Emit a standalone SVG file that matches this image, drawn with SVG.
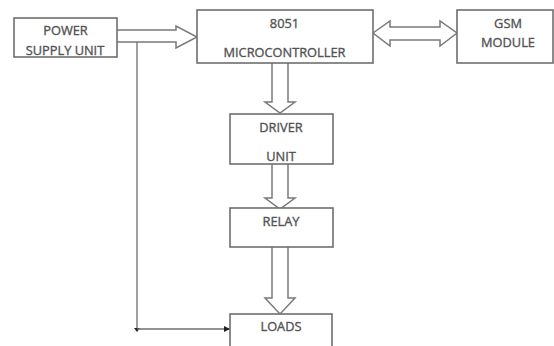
<svg xmlns="http://www.w3.org/2000/svg" width="554" height="346" viewBox="0 0 554 346">
  <style>
    .box { fill: #ffffff; stroke: #6e6e6e; stroke-width: 1.6; }
    .pipe { fill: #ffffff; stroke: #7a7a7a; stroke-width: 1.5; stroke-linejoin: miter; }
    .wire { fill: none; stroke: #6e6e6e; stroke-width: 1.3; }
    .lbl { font-family: "Open Sans", "Liberation Sans", sans-serif; font-size: 12.8px; fill: #4e4e4e; stroke: #5a5a5a; stroke-width: 0.35; text-anchor: middle; }
  </style>
  <defs>
    <marker id="tip" viewBox="0 0 6 6" refX="6" refY="3" markerWidth="6" markerHeight="6" orient="auto" markerUnits="userSpaceOnUse">
      <path d="M0,0 L6,3 L0,6 Z" fill="#222222"/>
    </marker>
  </defs>

  <rect width="554" height="346" fill="#ffffff"/>

  <g id="connectors">
    <!-- power supply to microcontroller -->
    <path class="pipe" d="M117,30 L176,30 L176,26 L197,37 L176,48 L176,42 L117,42"/>
    <!-- microcontroller <-> GSM module -->
    <path class="pipe" d="M373,33 L390,21 L390,27 L440,27 L440,21 L457,33 L440,46 L440,40 L390,40 L390,46 Z"/>
    <!-- microcontroller to driver -->
    <path class="pipe" d="M272,63 L272,102 L265,102 L280,113 L295,102 L288,102 L288,63"/>
    <!-- driver to relay -->
    <path class="pipe" d="M272,164 L272,198 L265,198 L280,209 L295,198 L288,198 L288,164"/>
    <!-- relay to loads -->
    <path class="pipe" d="M272,247 L272,298 L265,298 L280,314 L295,298 L288,298 L288,247"/>
    <!-- supply line to loads -->
    <path class="wire" d="M137,42 L137,329"/>
    <path d="M134,328 L140,328 L137,332 Z" fill="#222222"/>
    <path class="wire" d="M137,329 L230,329" marker-end="url(#tip)"/>
  </g>

  <g id="power">
    <rect class="box" x="14" y="18" width="103" height="39"/>
    <text class="lbl" x="65.5" y="35">POWER</text>
    <text class="lbl" x="65" y="54.5">SUPPLY UNIT</text>
  </g>

  <g id="mcu">
    <rect class="box" x="197" y="10" width="176" height="53"/>
    <text class="lbl" x="284.5" y="27.5">8051</text>
    <text class="lbl" x="284.5" y="57">MICROCONTROLLER</text>
  </g>

  <g id="gsm">
    <rect class="box" x="457" y="10" width="96" height="53"/>
    <text class="lbl" x="508" y="27.5">GSM</text>
    <text class="lbl" x="508" y="46.5">MODULE</text>
  </g>

  <g id="driver">
    <rect class="box" x="230" y="114" width="103" height="50"/>
    <text class="lbl" x="281" y="131.5">DRIVER</text>
    <text class="lbl" x="281" y="160.5">UNIT</text>
  </g>

  <g id="relay">
    <rect class="box" x="230" y="208" width="103" height="39"/>
    <text class="lbl" x="281" y="225.5">RELAY</text>
  </g>

  <g id="loads">
    <rect class="box" x="230" y="314" width="102" height="40"/>
    <text class="lbl" x="281" y="330.5">LOADS</text>
  </g>
</svg>
